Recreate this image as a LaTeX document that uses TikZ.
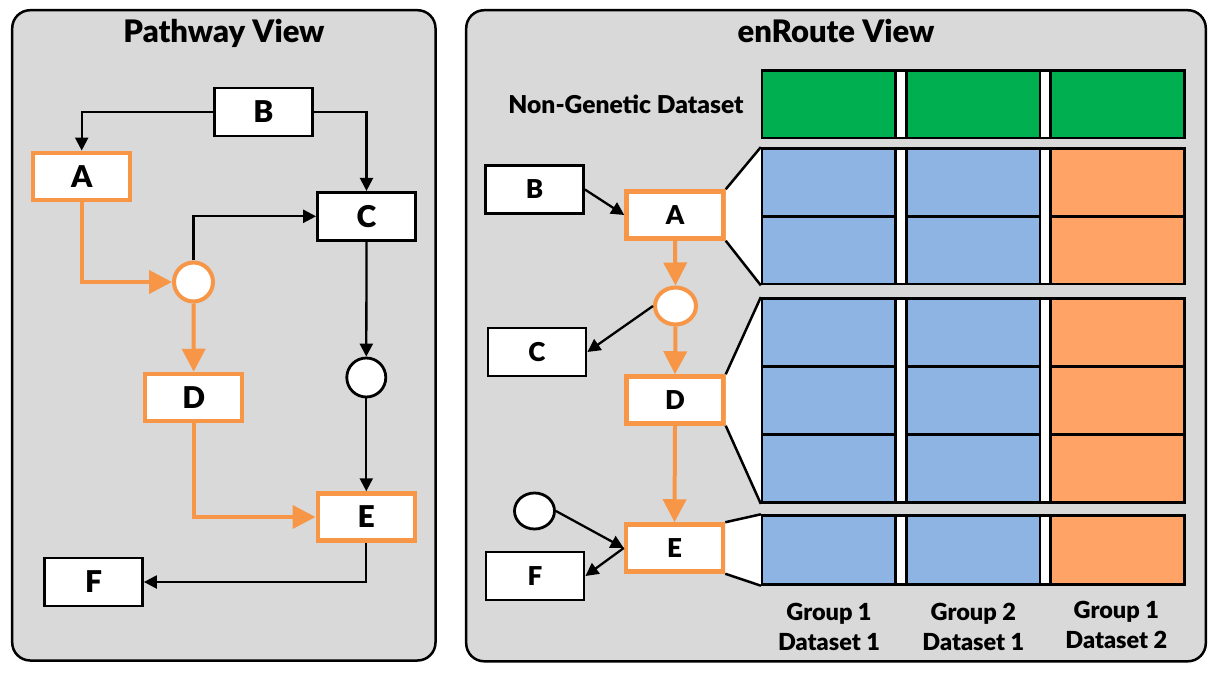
\documentclass[tikz,border=0pt]{standalone}
\usepackage{fontspec}
\setmainfont{Lato}[BoldFont={Lato Black}]
\usetikzlibrary{arrows.meta,shapes.geometric}
\definecolor{panelgray}{HTML}{D9D9D9}
\definecolor{hitorange}{HTML}{F79646}
\definecolor{ngreen}{HTML}{00B050}
\definecolor{gblue}{HTML}{8EB4E3}
\definecolor{gorange}{HTML}{FFA366}

\begin{document}
\begin{tikzpicture}[x=1pt, y=-1pt,
	panel/.style={draw, line width=2.5pt, fill=panelgray, rounded corners=18pt},
	title/.style={anchor=base, font=\fontsize{31}{31}\selectfont\bfseries},
	gene/.style={draw, rectangle, line width=2.8pt, fill=white, minimum width=98pt, minimum height=48pt, inner sep=0pt, font=\fontsize{30}{30}\selectfont\bfseries},
	hit/.style={gene, draw=hitorange, line width=4.5pt, minimum width=97pt, minimum height=47pt},
	rgene/.style={gene, font=\fontsize{26}{26}\selectfont\bfseries},
	rhit/.style={hit, font=\fontsize{26}{26}\selectfont\bfseries},
	cpd/.style={draw, circle, line width=2.8pt, fill=white, minimum size=39pt, inner sep=0pt},
	hitcpd/.style={cpd, draw=hitorange, line width=4pt},
	rcpd/.style={draw, ellipse, line width=2.8pt, fill=white, minimum width=40pt, minimum height=36pt, inner sep=0pt},
	rhitcpd/.style={rcpd, draw=hitorange, line width=4pt, minimum width=41pt, minimum height=37pt},
	link/.style={line width=2.3pt, -{Triangle[length=13pt, width=13pt]}},
	hitlink/.style={draw=hitorange, line width=4pt, -{Triangle[length=23pt, width=23pt]}},
	block/.style={draw, rectangle, line width=2.8pt, fill=white, minimum width=422pt, inner sep=0pt},
	cell/.style={draw, line width=2.8pt},
	fan/.style={line width=2.5pt},
	label/.style={font=\fontsize{24.6}{24.6}\selectfont\bfseries},
	colhead/.style={align=center, font=\fontsize{23.5}{30}\selectfont\bfseries}]
	\path[use as bounding box, fill=white] (0, 0) rectangle (1226, 676);

	% pathway view
	\draw[panel] (12.2, 10.2) rectangle (435.5, 660.5);
	\node[title] (pwtitle)at(224, 42.7) {Pathway View};
	\node[gene] (B)at(263.5, 112) {B};
	\node[hit] (A)at(81.7, 176.3) {A};
	\node[gene] (C)at(366.5, 216.3) {C};
	\node[hitcpd] (hc)at(193.5, 282) {};
	\node[hit] (D)at(193.7, 397.5) {D};
	\node[cpd] (bc)at(366.3, 377.5) {};
	\node[hit] (E)at(366.3, 517) {E};
	\node[gene] (F)at(93.5, 582) {F};
	\draw[link] (B.west) -| (A.north);
	\draw[link] (B.east) -| (C.north);
	\draw[link] (hc.north) |- (C.west);
	\draw[link] (C.south) -- (bc.north);
	\draw[link] (bc.south) -- (E.north);
	\draw[link] (E.south) |- (F.east);
	\draw[hitlink] (A.south) |- (hc.west);
	\draw[hitlink] (hc.south) -- (D.north);
	\draw[hitlink] (D.south) |- (E.west);

	% enroute view
	\draw[panel] (466.2, 10.2) rectangle (1205.8, 661.3);
	\node[title] (ertitle)at(836, 42.7) {enRoute View};
	\node[label, anchor=base east] (nglabel)at(747, 113.3) {Non-Genetic Dataset};
	\node[block, minimum height=67.5pt] (blkNG)at(973.25, 104.25) {};
	\node[block, minimum height=135.5pt] (blkA)at(973.25, 216.25) {};
	\node[block, minimum height=204pt] (blkD)at(973.25, 400.5) {};
	\node[block, minimum height=68.6pt] (blkE)at(973.25, 550) {};
	\foreach \cx/\cc in {762/gblue, 906.5/gblue, 1050.5/gorange} {
		\draw[cell, fill=ngreen] (\cx, 70.5) rectangle ++(133.5, 67.5);
		\foreach \ry in {148.5, 216.25}
			\draw[cell, fill=\cc] (\cx, \ry) rectangle ++(133.5, 67.75);
		\foreach \ry in {298.5, 366.5, 434.5}
			\draw[cell, fill=\cc] (\cx, \ry) rectangle ++(133.5, 68);
		\draw[cell, fill=\cc] (\cx, 515.7) rectangle ++(133.5, 68.6);
	}
	\node[rgene] (rB)at(534.5, 189.5) {B};
	\node[rhit] (rA)at(675, 215) {A};
	\node[rhitcpd] (rhc)at(675.5, 306) {};
	\node[rgene] (rC)at(537, 352) {C};
	\node[rhit] (rD)at(675, 400) {D};
	\node[rcpd] (rbc)at(534.5, 511) {};
	\node[rhit] (rE)at(674.5, 548) {E};
	\node[rgene] (rF)at(535, 576) {F};
	\fill[white] (rA.north east) -- (blkA.north west) -- (blkA.south west) -- (rA.south east) -- cycle;
	\draw[fan] (rA.north east) -- (blkA.north west) (rA.south east) -- (blkA.south west);
	\fill[white] (rD.north east) -- (blkD.north west) -- (blkD.south west) -- (rD.south east) -- cycle;
	\draw[fan] (rD.north east) -- (blkD.north west) (rD.south east) -- (blkD.south west);
	\fill[white] (rE.north east) -- (blkE.north west) -- (blkE.south west) -- (rE.south east) -- cycle;
	\draw[fan] (rE.north east) -- (blkE.north west) (rE.south east) -- (blkE.south west);
	\draw[link] (rB.east) -- (rA.west);
	\draw[link] (rhc.west) -- (rC.east);
	\draw[link] (rbc.east) -- (rE.west);
	\draw[link] (rE.west) -- (rF.east);
	\draw[hitlink] (rA.south) -- (rhc.north);
	\draw[hitlink] (rhc.south) -- (rD.north);
	\draw[hitlink] (rD.south) -- (rE.north);
	\node[colhead] (g1d1)at(829, 626.5) {Group 1\\Dataset 1};
	\node[colhead] (g2d1)at(973.3, 626.5) {Group 2\\Dataset 1};
	\node[colhead] (g1d2)at(1116.3, 624.5) {Group 1\\Dataset 2};
\end{tikzpicture}
\end{document}
